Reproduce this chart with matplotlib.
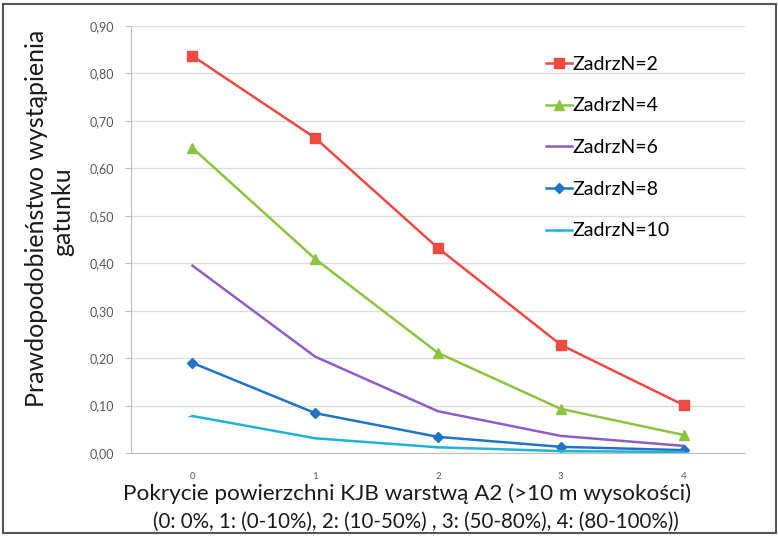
import numpy as np
import matplotlib.pyplot as plt
from matplotlib.ticker import MultipleLocator, FuncFormatter
from matplotlib.patches import Rectangle

plt.rcParams['font.family'] = ['Lato', 'DejaVu Sans']

# pokrycie warstwy A2 (klasy 0-4)
klasy = [0, 1, 2, 3, 4]
klasy_etykiety = ['0', '1', '2', '3', '4']

zadrz_2 = [0.837, 0.664, 0.432, 0.228, 0.101]
zadrz_4 = [0.643, 0.409, 0.211, 0.093, 0.038]
zadrz_6 = [0.395, 0.203, 0.088, 0.036, 0.015]
zadrz_8 = [0.190, 0.084, 0.034, 0.013, 0.006]
zadrz_10 = [0.078, 0.031, 0.012, 0.004, 0.002]

serie = [
    ('ZadrzN=2', zadrz_2, '#EC4A43', 's', 7),
    ('ZadrzN=4', zadrz_4, '#8CC43F', '^', 7),
    ('ZadrzN=6', zadrz_6, '#8B5FC6', None, 0),
    ('ZadrzN=8', zadrz_8, '#1F74C6', 'D', 5),
    ('ZadrzN=10', zadrz_10, '#22B2D6', '_', 6),
]

fig = plt.figure(figsize=(7.78, 5.36), dpi=100)
fig.patch.set_facecolor('white')
ax = fig.add_axes([131/778, 1-453/536, (745-131)/778, (453-26)/536])

for nazwa, wart, kolor, marker, ms in serie:
    ax.plot(klasy, wart, color=kolor, lw=1.8, marker=marker, ms=ms,
            mec=kolor, mfc=kolor, label=nazwa)

ax.set_xlim(-0.5, 4.5)
ax.set_ylim(0, 0.9)
ax.yaxis.set_major_locator(MultipleLocator(0.1))
ax.yaxis.set_major_formatter(FuncFormatter(lambda v, p: f'{v:.2f}'.replace('.', ',')))
ax.set_xticks(klasy)
ax.set_xticklabels(klasy_etykiety)
ax.grid(axis='y', color='#DCDCDC', lw=1)
ax.set_axisbelow(True)

for s in ['top', 'right']:
    ax.spines[s].set_visible(False)
ax.spines['left'].set_color('#BFBFBF')
ax.spines['bottom'].set_color('#BFBFBF')
ax.tick_params(axis='y', colors='#BFBFBF', labelcolor='#595959', labelsize=9, length=4, pad=8)
ax.tick_params(axis='x', length=0, labelcolor='#595959', labelsize=7, pad=14)

# opisy osi
fig.text(407/778, 1-494/536, 'Pokrycie powierzchni KJB warstwą A2 (>10 m wysokości)',
         fontsize=16.2, color='#1a1a1a', ha='center', va='center')
fig.text(416/778, 1-522/536, '(0: 0%, 1: (0-10%), 2: (10-50%) , 3: (50-80%), 4: (80-100%))',
         fontsize=14.8, color='#1a1a1a', ha='center', va='center')
fig.text(37/778, 1-218/536, 'Prawdopodobieństwo wystąpienia', rotation=90,
         fontsize=18, color='#1a1a1a', ha='center', va='center')
fig.text(63/778, 1-212/536, 'gatunku', rotation=90,
         fontsize=18, color='#1a1a1a', ha='center', va='center')

ax.legend(loc='upper left', bbox_to_anchor=(536/778, 1-46/536), bbox_transform=fig.transFigure,
          frameon=False, fontsize=14, handlelength=1.35, handletextpad=0.05,
          labelspacing=1.27, borderpad=0)

# ramka wokół całego wykresu
fig.add_artist(Rectangle((3/778, 3/536), 773/778, 529/536, transform=fig.transFigure,
                         fill=False, ec='#555555', lw=1.5))

plt.savefig('out.png', dpi=100)
